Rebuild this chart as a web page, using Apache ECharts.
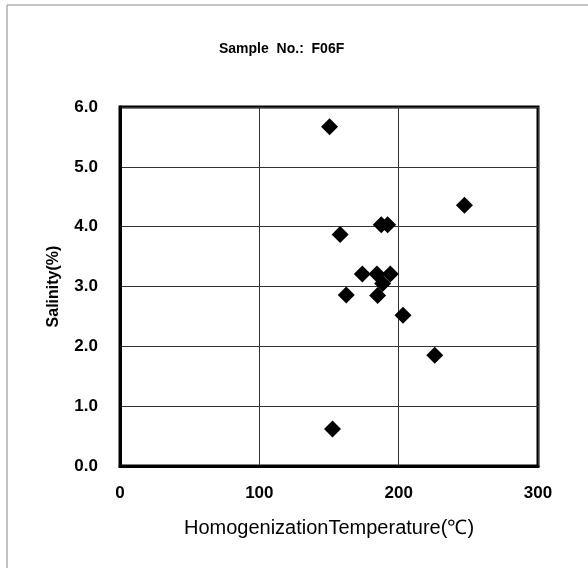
<!DOCTYPE html>
<html>
<head>
<meta charset="utf-8">
<script src="https://cdn.jsdelivr.net/npm/echarts@6/dist/echarts.min.js"></script>
<style>
html,body{margin:0;padding:0;background:#fff;}
#chart{width:588px;height:573px;}
</style>
</head>
<body>
<div id="chart"></div>
<script>
const titleText = 'Sample  No.:  F06F';
const xName = 'HomogenizationTemperature(℃)';
const yName = 'Salinity(%)';
const xTicks = [0, 100, 200, 300];
const yTicks = [0, 1, 2, 3, 4, 5, 6];
const temperature = [150.4, 247.2, 187.5, 192.1, 158.0, 173.9, 184.4, 194.0, 188.5, 162.4, 184.9, 203.1, 225.9, 152.5];
const salinity    = [5.67, 4.36, 4.03, 4.03, 3.87, 3.21, 3.21, 3.21, 3.05, 2.86, 2.85, 2.52, 1.85, 0.62];

const points = temperature.map((t, i) => [t, salinity[i]]);
const font = '"Liberation Sans", Arial, sans-serif';

const chart = echarts.init(document.getElementById('chart'), null, {renderer: 'canvas'});
chart.setOption({
  animation: false,
  backgroundColor: '#fff',
  title: {
    text: titleText,
    left: 214,
    top: 37,
    textStyle: {fontFamily: font, fontSize: 14, fontWeight: 'bold', color: '#000'}
  },
  graphic: [
    {type: 'line', shape: {x1: 7, y1: 5, x2: 588, y2: 5}, style: {stroke: '#888', lineWidth: 1}},
    {type: 'line', shape: {x1: 7, y1: 5, x2: 7, y2: 568}, style: {stroke: '#888', lineWidth: 1}}
  ],
  grid: {
    left: 120, right: 50, top: 107, bottom: 107,
    show: true, borderColor: '#000', borderWidth: 3, backgroundColor: 'transparent'
  },
  xAxis: {
    type: 'value',
    min: xTicks[0], max: xTicks[xTicks.length - 1], interval: 100,
    name: xName, nameLocation: 'middle', nameGap: 52,
    nameTextStyle: {fontFamily: font, fontSize: 20, color: '#000'},
    axisLine: {show: true, lineStyle: {color: '#000', width: 3}},
    axisTick: {show: false},
    axisLabel: {fontFamily: font, fontSize: 17, fontWeight: 'bold', color: '#000', margin: 19},
    splitLine: {show: true, lineStyle: {color: '#333', width: 1}}
  },
  yAxis: {
    type: 'value',
    min: yTicks[0], max: yTicks[yTicks.length - 1], interval: 1,
    name: yName, nameLocation: 'middle', nameGap: 58,
    nameTextStyle: {fontFamily: font, fontSize: 16, fontWeight: 'bold', color: '#000'},
    axisLine: {show: true, lineStyle: {color: '#000', width: 3}},
    axisTick: {show: false},
    axisLabel: {fontFamily: font, fontSize: 17, fontWeight: 'bold', color: '#000', margin: 22,
      formatter: v => v.toFixed(1)},
    splitLine: {show: true, lineStyle: {color: '#333', width: 1}}
  },
  series: [{
    type: 'scatter',
    data: points,
    symbol: 'diamond',
    symbolSize: 17,
    itemStyle: {color: '#000', opacity: 1}
  }]
});
</script>
</body>
</html>
